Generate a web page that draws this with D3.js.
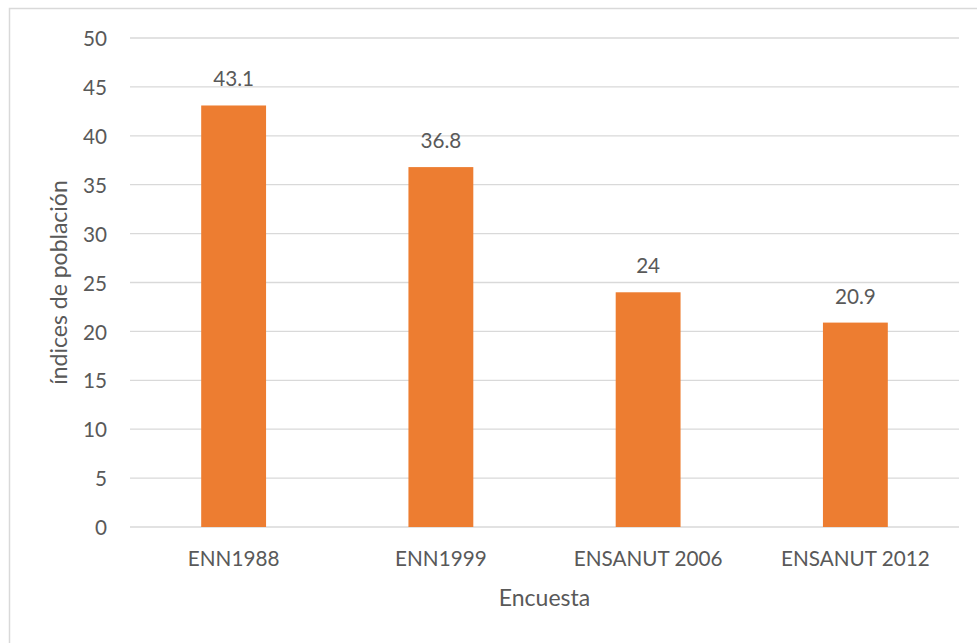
<!DOCTYPE html>
<html><head><meta charset="utf-8">
<script src="https://cdn.jsdelivr.net/npm/d3@7"></script>
<style>
html,body{margin:0;padding:0;background:#fff;}
text{font-family:Lato,"Open Sans",sans-serif;fill:#595959;}
</style></head>
<body>
<svg id="c" width="977" height="643"></svg>
<script>
const categories = ["ENN1988","ENN1999","ENSANUT 2006","ENSANUT 2012"];
const values = [43.1, 36.8, 24, 20.9];
const valueLabels = ["43.1","36.8","24","20.9"];
const yTicks = [0,5,10,15,20,25,30,35,40,45,50];
const xTitle = "Encuesta";
const yTitle = "índices de población";

(function(){
const svg = d3.select("#c");
const fs = "20.7px", fsTitle = "23px";
// chart border
svg.append("path").attr("d","M9.5,643 L9.5,8.5 L977,8.5").attr("fill","none").attr("stroke","#d9d9d9").attr("stroke-width",1.5);

const pL=130, pR=959, pT=38, pB=527;
const x = d3.scaleBand().domain(categories).range([pL,pR]).paddingInner(0.687).paddingOuter(0.3435);
const y = d3.scaleLinear().domain([0,50]).range([pB,pT]);

// gridlines
svg.append("g").selectAll("line").data(yTicks).join("line")
  .attr("x1",pL).attr("x2",pR)
  .attr("y1",d=>y(d)).attr("y2",d=>y(d))
  .attr("stroke","#d9d9d9").attr("stroke-width",1.3);

// y axis labels
const yAxis = d3.axisLeft(y).tickValues(yTicks).tickSize(0).tickPadding(0);
const gy = svg.append("g").attr("transform",`translate(${pL-23},1)`).call(yAxis);
gy.select(".domain").remove();
gy.selectAll("text").style("font-size",fs).attr("fill","#595959").attr("font-family","Lato, sans-serif");

// bars
svg.append("g").selectAll("rect").data(values).join("rect")
  .attr("x",(d,i)=>x(categories[i])).attr("width",x.bandwidth())
  .attr("y",d=>y(d)).attr("height",d=>y(0)-y(d))
  .attr("fill","#ed7d31");

// value labels
svg.append("g").selectAll("text").data(values).join("text")
  .attr("x",(d,i)=>x(categories[i])+x.bandwidth()/2)
  .attr("y",d=>y(d)-19)
  .attr("text-anchor","middle").style("font-size",fs)
  .text((d,i)=>valueLabels[i]);

// x axis labels
const xAxis = d3.axisBottom(x).tickSize(0).tickPadding(0);
const gx = svg.append("g").attr("transform",`translate(0,${pB})`).call(xAxis);
gx.select(".domain").remove();
gx.selectAll("text").attr("dy",null).attr("y",39).style("font-size",fs).attr("fill","#595959").attr("font-family","Lato, sans-serif");

// axis titles
svg.append("text").attr("x",(pL+pR)/2).attr("y",606).attr("text-anchor","middle").style("font-size",fsTitle).text(xTitle);
svg.append("text").attr("transform",`translate(67,${(pT+pB)/2}) rotate(-90)`).attr("text-anchor","middle").style("font-size",fsTitle).text(yTitle);
})();
</script>
</body></html>
